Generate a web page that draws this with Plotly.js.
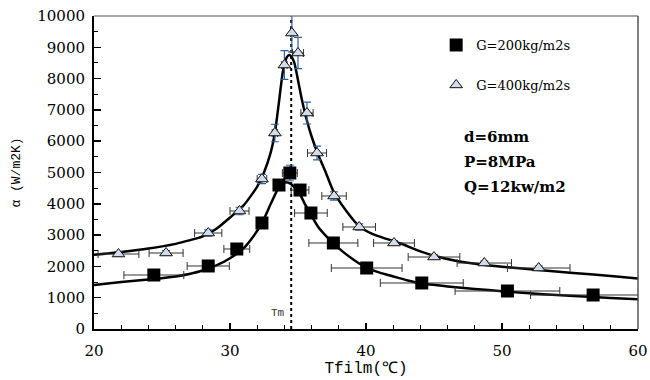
<!DOCTYPE html>
<html>
<head>
<meta charset="utf-8">
<script src="https://cdn.plot.ly/plotly-3.0.1.min.js"></script>
<style>html,body{margin:0;padding:0;background:#fff;}#chart{width:650px;height:380px;}</style>
</head>
<body>
<div id="chart"></div>
<script>
// G=200 kg/m2s (squares)
const g200X = [24.4, 28.4, 30.5, 32.35, 33.6, 34.4, 35.15, 35.95, 37.6, 40.05, 44.1, 50.4, 56.7];
const g200Y = [1725, 2013, 2556, 3387, 4600, 4984, 4440, 3706, 2748, 1949, 1470, 1214, 1086];
const g200Xerr = [2.2, 1.55, 0.95, 0.3, 0.4, 0.55, 0.65, 1.2, 1.8, 2.6, 3.05, 3.85, 4.6];
const g200Yerr = [50, 60, 80, 100, 150, 250, 150, 100, 80, 60, 50, 40, 40];

// G=400 kg/m2s (triangles)
const g400X = [21.8, 25.3, 28.4, 30.7, 32.35, 33.3, 34.0, 34.55, 35.0, 35.66, 36.4, 37.65, 39.5, 42.06, 45.0, 48.7, 52.7];
const g400Y = [2396, 2428, 3067, 3770, 4792, 6262, 8434, 9457, 8818, 6900, 5623, 4249, 3259, 2748, 2300, 2108, 1949];
const g400Xerr = [1.5, 1.25, 1.0, 0.7, 0.35, 0.2, 0.2, 0.1, 0.4, 0.45, 0.7, 0.9, 1.2, 1.5, 1.9, 2.0, 2.3];
const g400Yerr = [80, 80, 100, 120, 150, 280, 460, 600, 500, 350, 220, 130, 100, 80, 70, 60, 60];

// fitted curves
const upperFitX = [20, 22, 24, 26, 27, 28, 29, 30, 31, 32, 32.5, 33, 33.3, 33.6, 33.9, 34.2, 34.4, 34.7, 35.0, 35.3, 35.6, 36.0, 36.5, 37.0, 37.6, 38.5, 39.5, 40.5, 41.5, 42.5, 44, 45, 46.5, 48.5, 50, 52.5, 55, 58, 60];
const upperFitY = [2370, 2460, 2570, 2720, 2830, 2960, 3200, 3560, 3950, 4550, 5000, 5650, 6262, 7250, 8250, 8700, 8750, 8550, 7950, 7300, 6750, 6150, 5550, 5050, 4400, 3800, 3280, 3030, 2880, 2740, 2480, 2340, 2190, 2060, 1990, 1890, 1800, 1690, 1610];
const lowerFitX = [20, 22, 24, 26, 27, 28, 29, 30, 31, 31.7, 32.35, 33, 33.5, 34.0, 34.4, 34.8, 35.15, 35.5, 35.95, 36.5, 37.0, 37.6, 38.5, 39.3, 40, 41, 42, 43, 44, 46, 48, 50, 52, 54, 56, 58, 60];
const lowerFitY = [1406, 1500, 1580, 1680, 1760, 1870, 2030, 2260, 2580, 2950, 3380, 4000, 4450, 4680, 4650, 4500, 4300, 4000, 3650, 3250, 3000, 2737, 2400, 2150, 1970, 1800, 1680, 1560, 1460, 1360, 1280, 1210, 1140, 1085, 1040, 990, 950];

// Tm line
const tmX = [34.5, 34.5];
const tmY = [0, 10000];

const xTicks = [20, 30, 40, 50, 60];
const yTicks = [0, 1000, 2000, 3000, 4000, 5000, 6000, 7000, 8000, 9000, 10000];

const blue = '#2e5fa3';
const serif = '"DejaVu Serif", "Liberation Serif", serif';
const mono = '"Liberation Mono", "DejaVu Sans Mono", monospace';

const traces = [
  {x: tmX, y: tmY, mode: 'lines', line: {color: '#000', width: 2, dash: 'dot'}, showlegend: false, hoverinfo: 'skip'},
  {x: upperFitX, y: upperFitY, mode: 'lines', line: {color: '#000', width: 2.5, shape: 'spline', smoothing: 0.6}, showlegend: false},
  {x: lowerFitX, y: lowerFitY, mode: 'lines', line: {color: '#000', width: 2.5, shape: 'spline', smoothing: 0.6}, showlegend: false},
  {x: g200X, y: g200Y, mode: 'markers', name: 'G=200kg/m2s', legendgroup: 'a',
   marker: {symbol: 'square', size: 13, color: '#000'},
   error_x: {type: 'data', array: g200Xerr, visible: true, color: '#333', thickness: 1, width: 4},
   error_y: {type: 'data', array: g200Yerr, visible: true, color: blue, thickness: 1, width: 4},
   cliponaxis: false},
  {x: g400X, y: g400Y, mode: 'markers', name: 'G=400kg/m2s', legendgroup: 'b',
   marker: {symbol: 'triangle-up', size: 11, color: '#d4dcea', line: {color: '#111', width: 1}},
   error_x: {type: 'data', array: g400Xerr, visible: true, color: '#333', thickness: 1, width: 4},
   error_y: {type: 'data', array: g400Yerr, visible: true, color: blue, thickness: 1.2, width: 4}}
];

const layout = {
  width: 650, height: 380,
  margin: {l: 94, r: 12, t: 16, b: 51},
  paper_bgcolor: '#fff', plot_bgcolor: '#fff',
  font: {family: serif, color: '#000'},
  xaxis: {
    range: [20, 60], tickvals: xTicks, ticktext: xTicks.map(String),
    showline: true, linecolor: '#000', linewidth: 2, showgrid: false, zeroline: false,
    ticks: 'inside', ticklen: 6, tickwidth: 1.5, tickcolor: '#000',
    minor: {dtick: 2, ticks: 'inside', ticklen: 4, tickwidth: 1, tickcolor: '#000'},
    tickfont: {family: serif, size: 15, color: '#000'},
    ticklabelstandoff: 7,
    title: {text: 'Tfilm(℃)', font: {family: mono, size: 16, color: '#000'}, standoff: 2}
  },
  yaxis: {
    range: [0, 10000], tickvals: yTicks, ticktext: yTicks.map(String),
    showline: true, linecolor: '#000', linewidth: 2, showgrid: false, zeroline: false,
    ticks: 'inside', ticklen: 7, tickwidth: 1.5, tickcolor: '#000',
    minor: {dtick: 500, ticks: 'inside', ticklen: 4, tickwidth: 1, tickcolor: '#000'},
    tickfont: {family: serif, size: 15, color: '#000'},
    ticklabelstandoff: 4,
    title: {text: 'α (W/m2K)', font: {family: mono, size: 13, color: '#000'}, standoff: 14}
  },
  showlegend: true,
  legend: {
    x: 0.629, y: 0.955, xanchor: 'left', yanchor: 'top',
    bgcolor: 'rgba(0,0,0,0)', borderwidth: 0,
    font: {family: serif, size: 13, color: '#000'},
    tracegroupgap: 20, traceorder: 'grouped'
  },
  shapes: [
    {type: 'line', xref: 'paper', yref: 'paper', x0: 0, x1: 1, y0: 1, y1: 1, line: {color: '#888', width: 1.5}},
    {type: 'line', xref: 'paper', yref: 'paper', x0: 1, x1: 1, y0: 0, y1: 1, line: {color: '#555', width: 1.5}}
  ],
  annotations: [
    {xref: 'paper', yref: 'paper', x: 0.676, y: 0.613, xanchor: 'left', yanchor: 'middle', showarrow: false,
     align: 'left', text: '<b>d=6mm</b>', font: {family: serif, size: 15, color: '#000'}},
    {xref: 'paper', yref: 'paper', x: 0.676, y: 0.533, xanchor: 'left', yanchor: 'middle', showarrow: false,
     align: 'left', text: '<b>P=8MPa</b>', font: {family: serif, size: 15, color: '#000'}},
    {xref: 'paper', yref: 'paper', x: 0.676, y: 0.453, xanchor: 'left', yanchor: 'middle', showarrow: false,
     align: 'left', text: '<b>Q=12kw/m2</b>', font: {family: serif, size: 15, color: '#000'}},
    {xref: 'x', yref: 'y', x: 34.2, y: 500, xanchor: 'right', yanchor: 'middle', showarrow: false,
     text: 'Tm', font: {family: mono, size: 11, color: '#333'}}
  ]
};

Plotly.newPlot('chart', traces, layout, {staticPlot: true, displayModeBar: false});
</script>
</body>
</html>
